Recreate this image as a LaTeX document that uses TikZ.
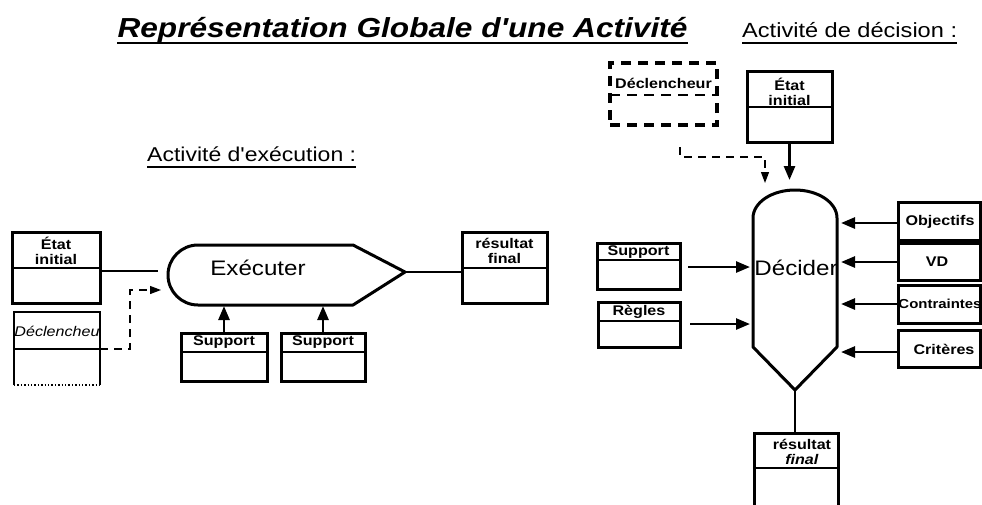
\documentclass[tikz,border=0pt]{standalone}
\usepackage{fontspec}
\setmainfont{Liberation Sans}[FakeStretch=1.15,Ligatures=TeXOff]
\usetikzlibrary{arrows.meta,calc}

\newcommand\mkboxs[5]{% name x1 y1 x2 y2
  \node[boxst,minimum width={(#4)-(#2)},minimum height={(#5)-(#3)}] (#1) at ({((#2)+(#4))/2},{-((#3)+(#5))/2}) {};}
\newcommand\mkbox[6]{% name x1 y1 x2 y2 ydiv
  \mkboxs{#1}{#2}{#3}{#4}{#5}
  \draw[divst] (#1.west |- 0,-#6) -- (#1.east |- 0,-#6);}

\begin{document}
\begin{tikzpicture}[x=1pt,y=1pt,
  boxst/.style={draw,line width=3pt,inner sep=0pt,outer sep=0pt},
  divst/.style={line width=2.4pt},
  lbl/.style={inner sep=0pt,font=\fontsize{14}{15}\selectfont\bfseries,align=center},
  conn/.style={line width=2.6pt},
  tarr/.style={conn,-{Triangle[length=14pt,width=11pt]}},
  darr/.style={line width=1.2pt,dash pattern=on 8pt off 6pt,-{Triangle[length=11pt,width=8pt]}},
  shp/.style={line width=3pt,line join=round},
  ttl/.style={inner sep=0pt,anchor=base},
]
\useasboundingbox (0,0) rectangle (982,-504);
\fill[white] (0,0) rectangle (982,-504);

% titles
\node[ttl,font=\fontsize{27.5}{32}\selectfont\bfseries\itshape] (title) at (402.5,-37) {Représentation Globale d'une Activité};
\draw[line width=2.6pt] ($(title.base west)+(0,-6)$) -- ($(title.base east)+(0,-6)$);
\node[ttl,anchor=base west,font=\fontsize{20.5}{24}\selectfont] (subdec) at (742,-37) {Activité de décision :};
\draw[line width=1.6pt] ($(subdec.base west)+(0,-6)$) -- ($(subdec.base east)+(0,-6)$);
\node[ttl,anchor=base west,font=\fontsize{20}{24}\selectfont] (subexe) at (147,-161) {Activité d'exécution :};
\draw[line width=1.6pt] ($(subexe.base west)+(0,-6)$) -- ($(subexe.base east)+(0,-6)$);

% ---------- execution activity ----------
\draw[shp] (198,-245) -- (353,-245) -- (405,-272) -- (353,-305) -- (198,-305) arc[start angle=270,end angle=90,radius=30] -- cycle;
\coordinate (exIn) at (158,-271);
\coordinate (exIn2) at (161,-290);
\coordinate (exTip) at (405,-272);
\coordinate (exB1) at (224,-306);
\coordinate (exB2) at (323,-306);
\node[inner sep=0pt,font=\fontsize{21}{24}\selectfont] (exec) at (258,-268) {Exécuter};

\mkbox{eti1}{12}{232}{100}{303}{268}
\node[lbl] (eti1t) at (56,-251) {État\\initial};

\node[inner sep=0pt,outer sep=0pt,minimum width=86,minimum height=73] (dec1) at (57,-348.5) {};
\draw[line width=2.4pt] (dec1.south west) -- (dec1.north west) -- (dec1.north east) -- (dec1.south east);
\draw[line width=1.4pt,dotted] (dec1.south west) -- (dec1.south east);
\draw[line width=1.8pt] (dec1.west |- 0,-349) -- (dec1.east |- 0,-349);
\node[lbl,font=\fontsize{14}{15}\selectfont\itshape] (dec1t) at (57,-331) {Déclencheu};

\mkbox{sup1}{181}{333}{267}{381}{352}
\node[lbl] (sup1t) at (224,-342) {Support};
\mkbox{sup2}{281}{333}{365}{381}{352}
\node[lbl] (sup2t) at (323,-342) {Support};

\mkbox{res1}{462}{232}{547}{303}{268}
\node[lbl] (res1t) at (504.5,-251) {résultat\\final};

\draw[conn] (eti1.east |- exIn) -- (exIn);
\draw[darr] (dec1.east |- 0,-349) -- (130,-349) -- (130,-290) -- (exIn2);
\draw[tarr] (sup1.north) -- (exB1);
\draw[tarr] (sup2.north) -- (exB2);
\draw[conn] (exTip) -- (res1.west |- exTip);

% ---------- decision activity ----------
\draw[shp] (753,-218) arc[start angle=180,end angle=0,x radius=42,y radius=28] -- (837,-347) -- (795,-390) -- (753,-347) -- cycle;
\node[inner sep=0pt,font=\fontsize{21}{24}\selectfont] (decide) at (796,-268) {Décider};
\coordinate (dTop1) at (789.5,-180);
\coordinate (dTop2) at (765,-183);
\coordinate (dL1) at (750,-267);
\coordinate (dL2) at (750,-324);
\coordinate (dR1) at (841,-223);
\coordinate (dR2) at (841,-262);
\coordinate (dR3) at (841,-304);
\coordinate (dR4) at (841,-352);
\coordinate (dBot) at (795,-390);

\node[draw,line width=3.2pt,dash pattern=on 10pt off 7pt,inner sep=0pt,outer sep=0pt,minimum width=107,minimum height=62] (dec2) at (663.5,-94) {};
\draw[line width=2.8pt,dash pattern=on 10pt off 7pt] (dec2.west |- 0,-95) -- (dec2.east |- 0,-95);
\node[lbl] (dec2t) at (663.5,-83) {Déclencheur};

\mkbox{eti2}{747}{71}{832}{142}{107}
\node[lbl] (eti2t) at (789.5,-92) {État\\initial};

\mkbox{sup3}{597}{243}{680}{289}{260}
\node[lbl] (sup3t) at (638.5,-252) {Support};
\mkbox{reg}{598}{302}{680}{347}{321}
\node[lbl] (regt) at (639,-312) {Règles};

\mkboxs{obj}{898}{202}{980.5}{240}
\node[lbl] (objt) at (940,-222) {Objectifs};
\mkboxs{vd}{898}{243}{980.5}{280}
\node[lbl] (vdt) at (937,-262) {VD};
\mkboxs{ctr}{898}{285}{980.5}{323}
\node[lbl,font=\fontsize{13}{14}\selectfont\bfseries] (ctrt) at (940,-304) {Contraintes};
\mkboxs{crit}{898}{330}{980.5}{367}
\node[lbl] (critt) at (944,-349) {Critères};

\mkbox{res2}{754}{433}{838}{507}{468}
\node[lbl] (res2t) at (802,-452) {résultat\\\textit{final}};

\draw[tarr] (eti2.south) -- (dTop1);
\draw[darr,shorten <=22pt] (dec2.south -| 680,0) -- (680,-157) -- (765,-157) -- (dTop2);
\draw[tarr,shorten <=8pt] (sup3.east |- dL1) -- (dL1);
\draw[tarr,shorten <=10pt] (reg.east |- dL2) -- (dL2);
\draw[tarr] (obj.west |- dR1) -- (dR1);
\draw[tarr] (vd.west |- dR2) -- (dR2);
\draw[tarr] (ctr.west |- dR3) -- (dR3);
\draw[tarr] (crit.west |- dR4) -- (dR4);
\draw[conn] (dBot) -- (dBot |- res2.north);
\end{tikzpicture}
\end{document}
